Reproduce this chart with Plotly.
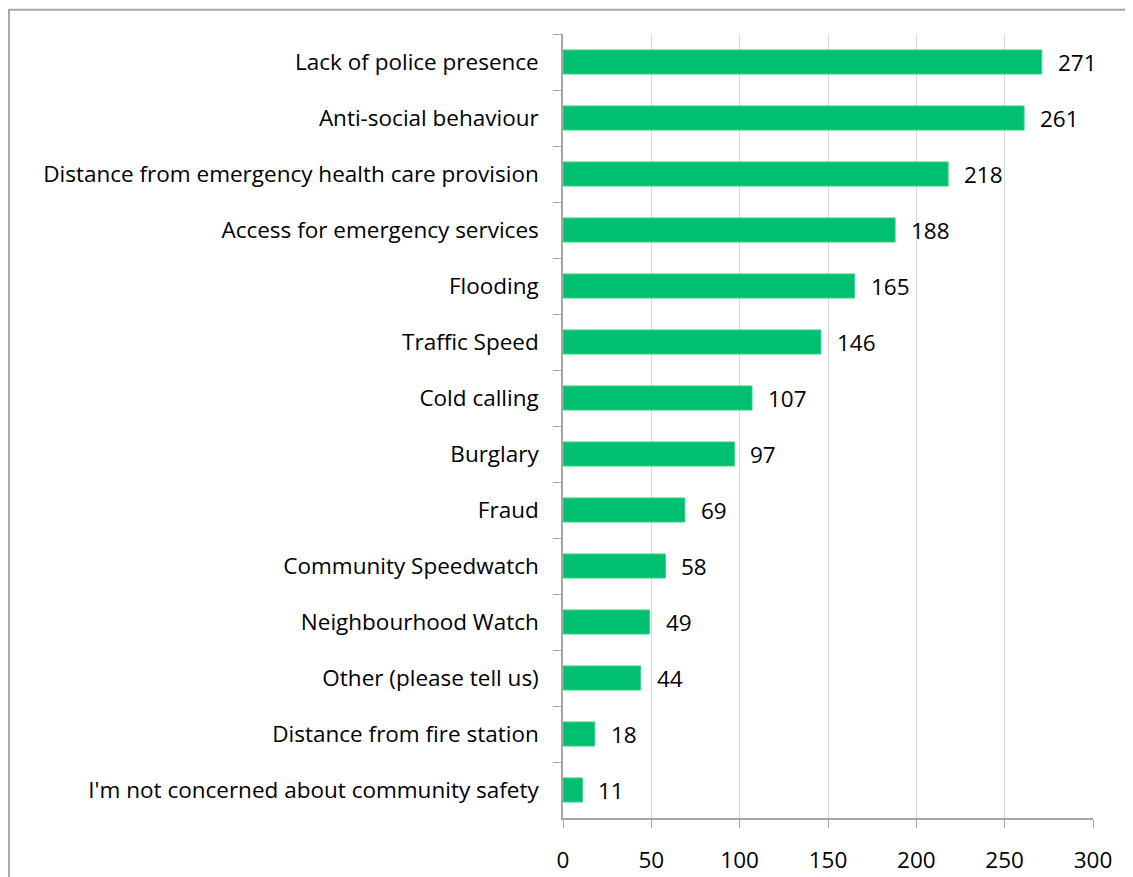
import plotly.graph_objects as go

# concerns about community safety, counts of respondents
categories = [
    "Lack of police presence",
    "Anti-social behaviour",
    "Distance from emergency health care provision",
    "Access for emergency services",
    "Flooding",
    "Traffic Speed",
    "Cold calling",
    "Burglary",
    "Fraud",
    "Community Speedwatch",
    "Neighbourhood Watch",
    "Other (please tell us)",
    "Distance from fire station",
    "I'm not concerned about community safety",
]
counts = [271, 261, 218, 188, 165, 146, 107, 97, 69, 58, 49, 44, 18, 11]
x_ticks = [0, 50, 100, 150, 200, 250, 300]

font_family = "Open Sans, sans-serif"
font_size = 22.5
green = "#00bf6f"

fig = go.Figure()
fig.add_trace(go.Bar(
    x=counts,
    y=categories,
    orientation="h",
    marker=dict(color=green, line=dict(color="#3fd18f", width=1)),
    hoverinfo="x+y",
))

# data labels to the right of each bar
for c, v in zip(categories, counts):
    fig.add_annotation(x=v, y=c, text=str(v), showarrow=False,
                       xanchor="left", xshift=14,
                       font=dict(family=font_family, size=font_size, color="black"))

# outer chart border (the picture is a crop of a bigger chart box)
fig.add_shape(type="rect", xref="paper", yref="paper",
              x0=-1.0455, x1=1.3, y0=-0.3, y1=1.031,
              line=dict(color="#a6a6a6", width=2), layer="below")

# page body has an 8px margin, so the figure is a bit smaller than the window
fig.update_layout(
    width=1125, height=869,
    margin=dict(l=555, r=40, t=26, b=59),
    plot_bgcolor="white", paper_bgcolor="white",
    bargap=0.57,
    showlegend=False,
    font=dict(family=font_family, size=font_size, color="black"),
)
fig.update_xaxes(
    range=[0, 300], tickvals=x_ticks,
    showgrid=True, gridcolor="#d9d9d9", gridwidth=1,
    showline=True, linecolor="#a6a6a6", linewidth=1.5,
    ticks="outside", ticklen=8, tickcolor="#a6a6a6",
    ticklabelstandoff=13,
    zeroline=False, automargin=False,
)
fig.update_yaxes(
    type="category", autorange="reversed",
    showline=True, linecolor="#a6a6a6", linewidth=1.5,
    ticks="outside", ticklen=8, tickcolor="#a6a6a6",
    tickson="boundaries",
    ticklabelstandoff=18,
    showgrid=False, automargin=False,
)

fig.write_html("out.html")
